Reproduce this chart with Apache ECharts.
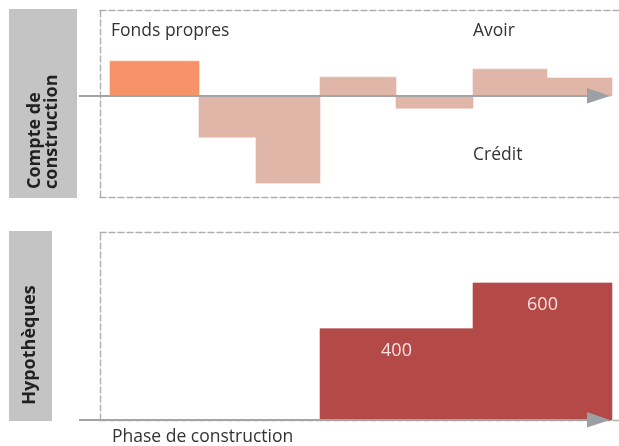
<!DOCTYPE html>
<meta charset="utf-8">
<style>
html, body { margin: 0; padding: 0; background: #fff; }
#main { width: 619px; height: 446px; }
</style>
<div id="main"></div>
<script src="https://cdn.jsdelivr.net/npm/echarts@6/dist/echarts.min.js"></script>
<script>

// construction account: phase boundaries (x) and the balance of each phase
var phaseBounds = [2, 19.8, 31.2, 44, 59.2, 74.6, 89.4, 102.4];
var accountValues = [153, -180, -381, 83, -53, 118, 79];
var accountKinds = ['Fonds propres', 'Crédit', 'Crédit', 'Avoir', 'Crédit', 'Avoir', 'Avoir'];

// mortgages
var mortgageBounds = [44, 74.6, 102.4];
var mortgageValues = [400, 600];

var panelTitles = ['Compte de\nconstruction', 'Hypothèques'];
var axisTitle = 'Phase de construction';

function steps(bounds, values, kinds) {
    return values.map(function (v, i) {
        return [bounds[i], bounds[i + 1], v, kinds ? kinds[i] : ''];
    });
}

var FONT = '"Open Sans", sans-serif';
var X_MAX = 103.8;

function stepRender(colorFn, withLabel) {
    return function (params, api) {
        var top = api.coord([api.value(0), api.value(2)]);
        var bot = api.coord([api.value(1), 0]);
        var y = Math.min(top[1], bot[1]);
        var h = Math.abs(bot[1] - top[1]);
        var color = colorFn(api.value(3));
        var children = [{
            type: 'rect',
            shape: { x: top[0], y: y, width: bot[0] - top[0], height: h },
            style: { fill: color, stroke: color, lineWidth: 0.6 }
        }];
        if (withLabel) {
            children.push({
                type: 'text',
                style: {
                    text: String(api.value(2)),
                    x: (top[0] + bot[0]) / 2,
                    y: y + 22,
                    fill: '#f6e2df',
                    font: '18px ' + FONT,
                    align: 'center',
                    verticalAlign: 'middle'
                }
            });
        }
        return { type: 'group', children: children };
    };
}

var chart = echarts.init(document.getElementById('main'));

var dashed = { show: true, onZero: false, lineStyle: { color: '#b0b0b0', width: 1.4, type: [6, 3] } };

function frameX(gridIndex, position) {
    return {
        gridIndex: gridIndex, type: 'value', min: 0, max: X_MAX, position: position,
        axisLine: dashed, axisTick: { show: false }, axisLabel: { show: false }, splitLine: { show: false }
    };
}
function frameY(gridIndex, min, max) {
    return {
        gridIndex: gridIndex, type: 'value', min: min, max: max,
        axisLine: dashed, axisTick: { show: false }, axisLabel: { show: false }, splitLine: { show: false }
    };
}

chart.setOption({
    animation: false,
    grid: [
        { left: 100, top: 10, right: 0, height: 187 },
        { left: 100, top: 232, right: 0, height: 188 }
    ],
    xAxis: [
        frameX(0, 'bottom'), frameX(1, 'bottom'),
        frameX(0, 'top'), frameX(1, 'top')
    ],
    yAxis: [
        frameY(0, -442, 377),
        frameY(1, 0, 823)
    ],
    series: [
        {
            type: 'custom',
            xAxisIndex: 0,
            yAxisIndex: 0,
            encode: { x: [0, 1], y: 2 },
            data: steps(phaseBounds, accountValues, accountKinds),
            renderItem: stepRender(function (kind) {
                return kind === 'Fonds propres' ? '#f69268' : '#dfb6a8';
            }, false)
        },
        {
            type: 'custom',
            xAxisIndex: 1,
            yAxisIndex: 1,
            encode: { x: [0, 1], y: 2 },
            data: steps(mortgageBounds, mortgageValues),
            renderItem: stepRender(function () { return '#b34a48'; }, true)
        }
    ]
});

// axis arrows and annotations, placed from the axes
function arrow(gridIndex) {
    var a = chart.convertToPixel({ xAxisIndex: gridIndex, yAxisIndex: gridIndex }, [-4.2, 0]);
    var b = chart.convertToPixel({ xAxisIndex: gridIndex, yAxisIndex: gridIndex }, [102, 0]);
    return [
        {
            type: 'line',
            shape: { x1: a[0], y1: a[1], x2: b[0] - 10, y2: b[1] },
            style: { stroke: '#a4a4a4', lineWidth: 2 },
            z: 10
        },
        {
            type: 'polygon',
            shape: { points: [[b[0] - 23, b[1] - 8], [b[0], b[1]], [b[0] - 23, b[1] + 7.5]] },
            style: { fill: '#9c9fa4' },
            z: 10
        }
    ];
}

function label(text, x, y) {
    return {
        type: 'text',
        x: x,
        y: y,
        style: {
            text: text,
            fill: '#333',
            font: '17.5px ' + FONT,
            verticalAlign: 'middle'
        },
        z: 20
    };
}

var graphics = [
    { type: 'rect', shape: { x: 9, y: 9, width: 68, height: 189 }, style: { fill: '#c4c4c4' } },
    { type: 'rect', shape: { x: 9, y: 231, width: 43, height: 190 }, style: { fill: '#c4c4c4' } },
    {
        type: 'text',
        x: 43, y: 189, rotation: Math.PI / 2,
        style: {
            text: panelTitles[0], fill: '#222', font: 'bold 18px ' + FONT,
            align: 'left', verticalAlign: 'middle', lineHeight: 17
        }
    },
    {
        type: 'text',
        x: 30, y: 345, rotation: Math.PI / 2,
        style: {
            text: panelTitles[1], fill: '#222', font: 'bold 18px ' + FONT,
            align: 'center', verticalAlign: 'middle'
        }
    },
    label('Fonds propres', 111, 31),
    label('Avoir', 473, 31),
    label('Crédit', 473, 155),
    label(axisTitle, 112, 437)
].concat(arrow(0), arrow(1));

chart.setOption({ graphic: graphics });

</script>
